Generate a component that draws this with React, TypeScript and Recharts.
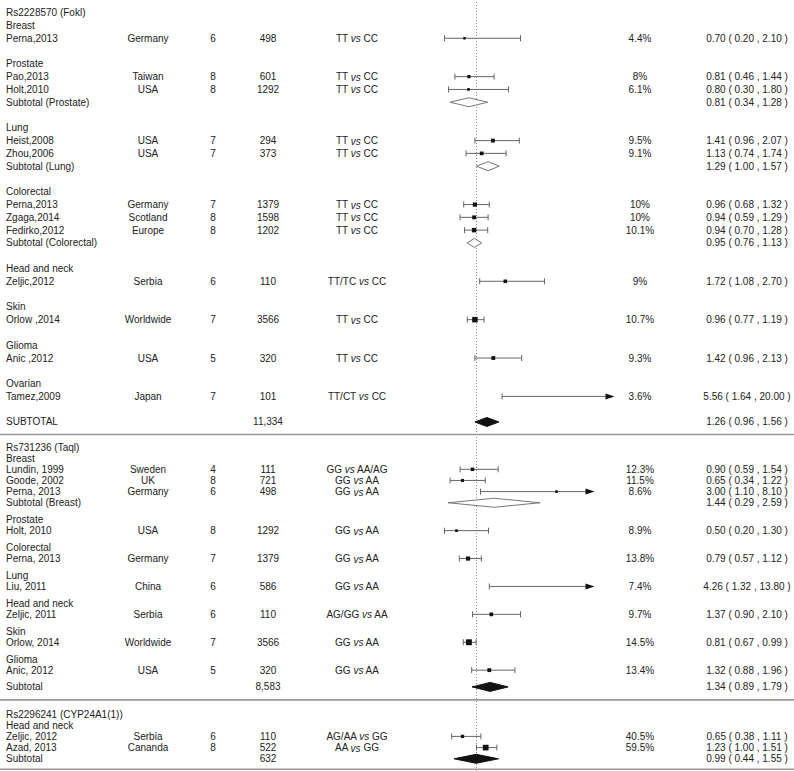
import React from "react";
import { ScatterChart, Scatter, XAxis, YAxis, ReferenceLine } from "recharts";

// ---------------- DATA ----------------
const SNP_NAMES = ["Rs2228570 (Fokl)", "Rs731236 (Taql)", "Rs2296241 (CYP24A1(1))"];

type Study = {
  group: string; author: string; country: string; score: number; n: string;
  geno: [string, string]; weight: string; or: number; lo: number; hi: number;
};

const FOKI_STUDIES: Study[] = [
  { group: "Breast", author: "Perna,2013", country: "Germany", score: 6, n: "498", geno: ["TT", "CC"], weight: "4.4%", or: 0.7, lo: 0.2, hi: 2.1 },
  { group: "Prostate", author: "Pao,2013", country: "Taiwan", score: 8, n: "601", geno: ["TT", "CC"], weight: "8%", or: 0.81, lo: 0.46, hi: 1.44 },
  { group: "Prostate", author: "Holt,2010", country: "USA", score: 8, n: "1292", geno: ["TT", "CC"], weight: "6.1%", or: 0.8, lo: 0.3, hi: 1.8 },
  { group: "Lung", author: "Heist,2008", country: "USA", score: 7, n: "294", geno: ["TT", "CC"], weight: "9.5%", or: 1.41, lo: 0.96, hi: 2.07 },
  { group: "Lung", author: "Zhou,2006", country: "USA", score: 7, n: "373", geno: ["TT", "CC"], weight: "9.1%", or: 1.13, lo: 0.74, hi: 1.74 },
  { group: "Colorectal", author: "Perna,2013", country: "Germany", score: 7, n: "1379", geno: ["TT", "CC"], weight: "10%", or: 0.96, lo: 0.68, hi: 1.32 },
  { group: "Colorectal", author: "Zgaga,2014", country: "Scotland", score: 8, n: "1598", geno: ["TT", "CC"], weight: "10%", or: 0.94, lo: 0.59, hi: 1.29 },
  { group: "Colorectal", author: "Fedirko,2012", country: "Europe", score: 8, n: "1202", geno: ["TT", "CC"], weight: "10.1%", or: 0.94, lo: 0.7, hi: 1.28 },
  { group: "Head and neck", author: "Zeljic,2012", country: "Serbia", score: 6, n: "110", geno: ["TT/TC", "CC"], weight: "9%", or: 1.72, lo: 1.08, hi: 2.7 },
  { group: "Skin", author: "Orlow ,2014", country: "Worldwide", score: 7, n: "3566", geno: ["TT", "CC"], weight: "10.7%", or: 0.96, lo: 0.77, hi: 1.19 },
  { group: "Glioma", author: "Anic ,2012", country: "USA", score: 5, n: "320", geno: ["TT", "CC"], weight: "9.3%", or: 1.42, lo: 0.96, hi: 2.13 },
  { group: "Ovarian", author: "Tamez,2009", country: "Japan", score: 7, n: "101", geno: ["TT/CT", "CC"], weight: "3.6%", or: 5.56, lo: 1.64, hi: 20.0 },
];

const TAQI_STUDIES: Study[] = [
  { group: "Breast", author: "Lundin, 1999", country: "Sweden", score: 4, n: "111", geno: ["GG", "AA/AG"], weight: "12.3%", or: 0.9, lo: 0.59, hi: 1.54 },
  { group: "Breast", author: "Goode, 2002", country: "UK", score: 8, n: "721", geno: ["GG", "AA"], weight: "11.5%", or: 0.65, lo: 0.34, hi: 1.22 },
  { group: "Breast", author: "Perna, 2013", country: "Germany", score: 6, n: "498", geno: ["GG", "AA"], weight: "8.6%", or: 3.0, lo: 1.1, hi: 8.1 },
  { group: "Prostate", author: "Holt, 2010", country: "USA", score: 8, n: "1292", geno: ["GG", "AA"], weight: "8.9%", or: 0.5, lo: 0.2, hi: 1.3 },
  { group: "Colorectal", author: "Perna, 2013", country: "Germany", score: 7, n: "1379", geno: ["GG", "AA"], weight: "13.8%", or: 0.79, lo: 0.57, hi: 1.12 },
  { group: "Lung", author: "Liu, 2011", country: "China", score: 6, n: "586", geno: ["GG", "AA"], weight: "7.4%", or: 4.26, lo: 1.32, hi: 13.8 },
  { group: "Head and neck", author: "Zeljic, 2011", country: "Serbia", score: 6, n: "110", geno: ["AG/GG", "AA"], weight: "9.7%", or: 1.37, lo: 0.9, hi: 2.1 },
  { group: "Skin", author: "Orlow, 2014", country: "Worldwide", score: 7, n: "3566", geno: ["GG", "AA"], weight: "14.5%", or: 0.81, lo: 0.67, hi: 0.99 },
  { group: "Glioma", author: "Anic, 2012", country: "USA", score: 5, n: "320", geno: ["GG", "AA"], weight: "13.4%", or: 1.32, lo: 0.88, hi: 1.96 },
];

const CYP_STUDIES: Study[] = [
  { group: "Head and neck", author: "Zeljic, 2012", country: "Serbia", score: 6, n: "110", geno: ["AG/AA", "GG"], weight: "40.5%", or: 0.65, lo: 0.38, hi: 1.11 },
  { group: "Head and neck", author: "Azad, 2013", country: "Cananda", score: 8, n: "522", geno: ["AA", "GG"], weight: "59.5%", or: 1.23, lo: 1.0, hi: 1.51 },
];

const GROUP_SUBTOTALS = [
  { sec: 0, group: "Prostate", or: 0.81, lo: 0.34, hi: 1.28 },
  { sec: 0, group: "Lung", or: 1.29, lo: 1.0, hi: 1.57 },
  { sec: 0, group: "Colorectal", or: 0.95, lo: 0.76, hi: 1.13 },
  { sec: 1, group: "Breast", or: 1.44, lo: 0.29, hi: 2.59 },
];

const SECTION_TOTALS = [
  { label: "SUBTOTAL", n: "11,334", or: 1.26, lo: 0.96, hi: 1.56 },
  { label: "Subtotal", n: "8,583", or: 1.34, lo: 0.89, hi: 1.79 },
  { label: "Subtotal", n: "632", or: 0.99, lo: 0.44, hi: 1.55 },
];

// upper display limit of the odds-ratio axis in each panel (longer CIs get an arrow)
const AXIS_LIMITS = [4.45, 3.95, 3.95];

// ---------------- LAYOUT ----------------
const W = 794;
const H = 771;
const ZERO_PX = 436.5;
const PX_PER_UNIT = 40;
const X_DOMAIN: [number, number] = [-ZERO_PX / PX_PER_UNIT, (W - ZERO_PX) / PX_PER_UNIT];
const SECTION_LAYOUT = [
  { top: 12.7, line: 12.79, gap: 12.79, rule: 12.5 },
  { top: 447, line: 11.15, gap: 5.6, rule: 13 },
  { top: 714, line: 11.2, gap: 0, rule: 10.5 },
];
const COL = { label: 6, country: 148, score: 213, n: 268, geno: 357, weight: 640, ci: 747 };
const FONT = "'Liberation Sans', Arial, Helvetica, sans-serif";
const TEXT_COLOR = "#222";
const LINE_COLOR = "#666";

type Summary = { or: number; lo: number; hi: number };
type Row = {
  kind: "snp" | "group" | "study" | "sub" | "total";
  x: number; y: number; label: string; sec: number;
  study?: Study; summary?: Summary; n?: string;
};

const SECTIONS = [FOKI_STUDIES, TAQI_STUDIES, CYP_STUDIES];
const rows: Row[] = [];
const rules: number[] = [];
SECTIONS.forEach((studies, si) => {
  const L = SECTION_LAYOUT[si];
  let y = L.top;
  rows.push({ kind: "snp", x: 1, y, label: SNP_NAMES[si], sec: si });
  y += L.line;
  const groups: string[] = [];
  studies.forEach((s) => { if (!groups.includes(s.group)) groups.push(s.group); });
  groups.forEach((g) => {
    rows.push({ kind: "group", x: 1, y, label: g, sec: si });
    y += L.line;
    studies.filter((s) => s.group === g).forEach((s) => {
      rows.push({ kind: "study", x: 1, y, label: s.author, sec: si, study: s });
      y += L.line;
    });
    const sub = GROUP_SUBTOTALS.find((t) => t.sec === si && t.group === g);
    if (sub) {
      rows.push({ kind: "sub", x: 1, y, label: `Subtotal (${g})`, sec: si, summary: sub });
      y += L.line;
    }
    y += L.gap;
  });
  const tot = SECTION_TOTALS[si];
  rows.push({ kind: "total", x: 1, y, label: tot.label, sec: si, summary: tot, n: tot.n });
  rules.push(y + L.rule);
});

const studyRows = rows.filter((r) => r.kind === "study");
const pointData = studyRows
  .filter((r) => r.study!.or <= AXIS_LIMITS[r.sec])
  .map((r) => {
    const s = r.study!;
    const lw = Math.log(s.hi / s.lo);
    const size = Math.max(2.5, Math.min(6.5, 1.8 + 1.6 / lw));
    return { or: s.or, y: r.y, size };
  });

const fmt = (v: number) => v.toFixed(2);
const ciText = (s: Summary) => `${fmt(s.or)} ( ${fmt(s.lo)} , ${fmt(s.hi)} )`;

// ---------------- SHAPES ----------------
function TextRow(props: any) {
  const { cy, payload } = props;
  const r: Row = payload;
  const common = { fontFamily: FONT, fontSize: 10, fill: TEXT_COLOR, dominantBaseline: "central" as const };
  const s = r.study;
  return (
    <g>
      <text x={COL.label} y={cy} textAnchor="start" {...common}>{r.label}</text>
      {s && (
        <>
          <text x={COL.country} y={cy} textAnchor="middle" {...common}>{s.country}</text>
          <text x={COL.score} y={cy} textAnchor="middle" {...common}>{s.score}</text>
          <text x={COL.n} y={cy} textAnchor="middle" {...common}>{s.n}</text>
          <text x={COL.geno} y={cy} textAnchor="middle" {...common}>
            {s.geno[0]}{" "}<tspan fontStyle="italic">vs</tspan>{" "}{s.geno[1]}
          </text>
          <text x={COL.weight} y={cy} textAnchor="middle" {...common}>{s.weight}</text>
          <text x={COL.ci} y={cy} textAnchor="middle" {...common}>{ciText(s)}</text>
        </>
      )}
      {r.n && <text x={COL.n} y={cy} textAnchor="middle" {...common}>{r.n}</text>}
      {r.summary && <text x={COL.ci} y={cy} textAnchor="middle" {...common}>{ciText(r.summary)}</text>}
    </g>
  );
}

function SquareShape(props: any) {
  const { cx, cy, payload } = props;
  const s = payload.size;
  return <rect x={cx - s / 2} y={cy - s / 2} width={s} height={s} fill="#111" />;
}

function whiskerShape(arrow: boolean) {
  return (p: any) => {
    const { x1, y1, x2 } = p;
    const y = y1;
    const cap = 3;
    return (
      <g>
        <line x1={x1} y1={y} x2={arrow ? x2 - 8 : x2} y2={y} stroke={LINE_COLOR} strokeWidth={1} />
        <line x1={x1} y1={y - cap} x2={x1} y2={y + cap} stroke={LINE_COLOR} strokeWidth={1} />
        {arrow ? (
          <polygon points={`${x2},${y} ${x2 - 9},${y - 3} ${x2 - 9},${y + 3}`} fill="#111" />
        ) : (
          <line x1={x2} y1={y - cap} x2={x2} y2={y + cap} stroke={LINE_COLOR} strokeWidth={1} />
        )}
      </g>
    );
  };
}

function diamondShape(s: Summary, filled: boolean) {
  return (p: any) => {
    const { x1, y1, x2 } = p;
    const ex = x1 + ((x2 - x1) * (s.or - s.lo)) / (s.hi - s.lo);
    const h = 4.5;
    return (
      <polygon
        points={`${x1},${y1} ${ex},${y1 - h} ${x2},${y1} ${ex},${y1 + h}`}
        fill={filled ? "#111" : "#fff"}
        stroke={filled ? "#111" : "#777"}
        strokeWidth={1}
      />
    );
  };
}

export default function App() {
  return (
    <div style={{ position: "absolute", left: 0, top: 0, width: W, height: H, background: "#fff" }}>
      <ScatterChart width={W} height={H} margin={{ top: 0, right: 0, bottom: 0, left: 0 }}>
        <XAxis type="number" dataKey="or" domain={X_DOMAIN} hide allowDataOverflow />
        <YAxis type="number" dataKey="y" domain={[0, H]} reversed hide allowDataOverflow />
        <ReferenceLine x={1} stroke="#888" strokeDasharray="1 2" strokeWidth={1} />
        {rules.map((ry, i) => (
          <ReferenceLine key={`rule${i}`} y={ry} stroke="#999" strokeWidth={1.6} />
        ))}
        {studyRows.map((r, i) => {
          const s = r.study!;
          const lim = AXIS_LIMITS[r.sec];
          const arrow = s.hi > lim;
          return (
            <ReferenceLine
              key={`ci${i}`}
              segment={[{ x: s.lo, y: r.y }, { x: Math.min(s.hi, lim), y: r.y }]}
              shape={whiskerShape(arrow)}
            />
          );
        })}
        {rows.filter((r) => r.kind === "sub" || r.kind === "total").map((r, i) => (
          <ReferenceLine
            key={`dm${i}`}
            segment={[{ x: r.summary!.lo, y: r.y }, { x: r.summary!.hi, y: r.y }]}
            shape={diamondShape(r.summary!, r.kind === "total")}
          />
        ))}
        <Scatter data={pointData} shape={SquareShape} isAnimationActive={false} />
        <Scatter data={rows.map((r) => ({ ...r, or: 1 }))} shape={TextRow} isAnimationActive={false} />
      </ScatterChart>
    </div>
  );
}
